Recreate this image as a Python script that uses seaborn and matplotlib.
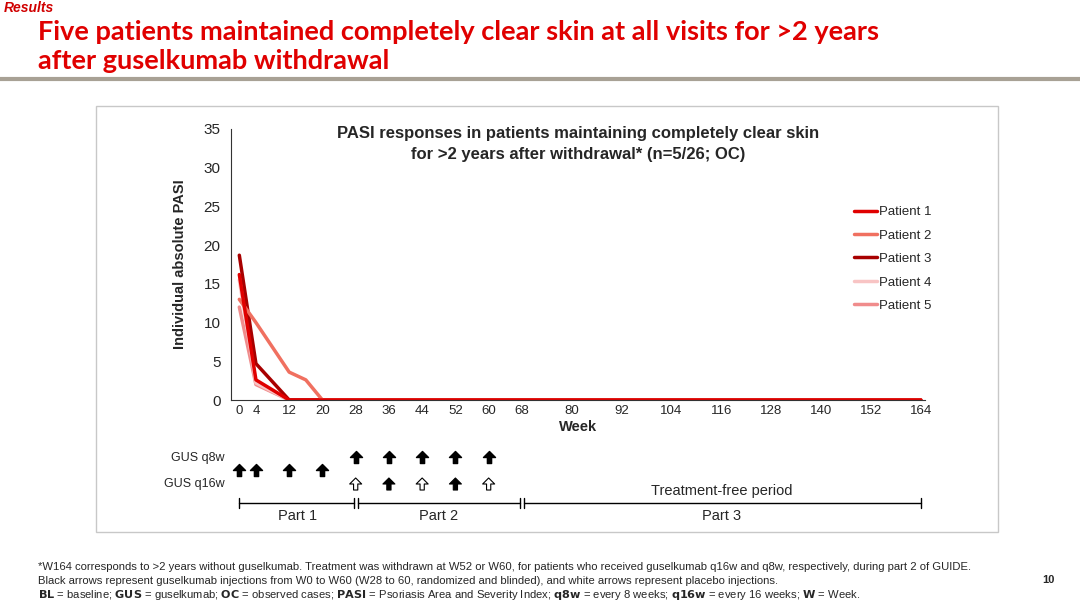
import matplotlib
matplotlib.use("Agg")
import matplotlib.pyplot as plt
import seaborn as sns
import pandas as pd
import numpy as np
from matplotlib.path import Path
from matplotlib.patches import Rectangle

weeks = [0, 4, 12, 16, 20, 28, 36, 44, 52, 60, 68, 80, 92, 104, 116, 128, 140, 152, 164]
p1 = [16.2, 2.6, 0, 0, 0, 0, 0, 0, 0, 0, 0, 0, 0, 0, 0, 0, 0, 0, 0]
p2 = [13.0, 10.0, 3.6, 2.6, 0, 0, 0, 0, 0, 0, 0, 0, 0, 0, 0, 0, 0, 0, 0]
p3 = [18.7, 4.7, 0, 0, 0, 0, 0, 0, 0, 0, 0, 0, 0, 0, 0, 0, 0, 0, 0]
p4 = [15.5, 2.2, 0, 0, 0, 0, 0, 0, 0, 0, 0, 0, 0, 0, 0, 0, 0, 0, 0]
p5 = [12.0, 2.0, 0, 0, 0, 0, 0, 0, 0, 0, 0, 0, 0, 0, 0, 0, 0, 0, 0]
patients = ["Patient 1", "Patient 2", "Patient 3", "Patient 4", "Patient 5"]
colors = ["#e00000", "#f07060", "#a80000", "#f8c4c4", "#f08c8c"]
xticks = [0, 4, 12, 20, 28, 36, 44, 52, 60, 68, 80, 92, 104, 116, 128, 140, 152, 164]
part1_wk = [0, 4, 12, 20]
q8_wk = [28, 36, 44, 52, 60]
q16_wk = [28, 36, 44, 52, 60]
q16_active = [False, True, False, True, False]

rows = []
for name, vals in zip(patients, [p1, p2, p3, p4, p5]):
    for w, v in zip(weeks, vals):
        rows.append({"Week": w, "PASI": v, "Patient": name})
df = pd.DataFrame(rows)

sns.set_style("white")
plt.rcParams['font.family'] = ['Liberation Sans', 'DejaVu Sans']

W, H = 1080, 606
fig = plt.figure(figsize=(W/100, H/100), dpi=100)

def fx(px): return px / W
def fy(py): return 1 - py / H

# header
fig.text(fx(4), fy(8), "Results", color="#d00000", fontsize=10, fontweight="bold", style="italic", va="center")
fig.text(fx(38), fy(32), "Five patients maintained completely clear skin at all visits for >2 years",
         color="#e00000", fontsize=19.5, fontweight="bold", va="center", family=["Lato", "DejaVu Sans"])
fig.text(fx(38), fy(61), "after guselkumab withdrawal",
         color="#e00000", fontsize=19.5, fontweight="bold", va="center", family=["Lato", "DejaVu Sans"])
fig.add_artist(plt.Line2D([0, 1], [fy(79), fy(79)], color="#a8a195", lw=3, transform=fig.transFigure))
fig.add_artist(Rectangle((fx(96), fy(532)), fx(998) - fx(96), fy(106) - fy(532),
                         transform=fig.transFigure, fill=False, ec="#c8c8c8", lw=1))

# main axes
ax = fig.add_axes([fx(231), fy(400), fx(925) - fx(231), fy(129) - fy(400)])
order = patients[::-1]
pal = dict(zip(patients, colors))
sns.lineplot(data=df, x="Week", y="PASI", hue="Patient", hue_order=order, palette=pal,
             lw=2.5, ax=ax, legend=False)
ax.set_xlim(-2, 165)
ax.set_ylim(0, 35)
ax.set_xticks(xticks)
ax.set_xticklabels([str(t) for t in xticks], fontsize=9.5)
ax.set_yticks(range(0, 36, 5))
ax.tick_params(axis="y", labelsize=11, length=4, color="#333")
ax.tick_params(axis="x", length=4, color="#333", direction="in")
ax.set_xlabel("Week", fontsize=10.5, fontweight="bold", labelpad=2)
ax.set_ylabel("Individual absolute PASI", fontsize=10.5, fontweight="bold", labelpad=12)
for s in ["top", "right"]:
    ax.spines[s].set_visible(False)
for s in ["left", "bottom"]:
    ax.spines[s].set_color("#333")
ax.set_title("PASI responses in patients maintaining completely clear skin\nfor >2 years after withdrawal* (n=5/26; OC)",
             fontsize=12, fontweight="bold", y=0.86, linespacing=1.5)
handles = [plt.Line2D([], [], color=c, lw=2.5) for c in colors]
ax.legend(handles, patients, loc="upper left", bbox_to_anchor=(0.88, 0.76), frameon=False,
          fontsize=9.5, handlelength=1.8, handletextpad=0.1, labelspacing=0.85)

# lower axes with arrows
ax2 = fig.add_axes([fx(231), fy(530), fx(925) - fx(231), fy(445) - fy(530)])
ax2.set_xlim(-2, 165)
ax2.set_ylim(0, 85)
ax2.axis("off")
arrow = Path([(-0.35, -1), (-0.35, 0), (-1, 0), (0, 1), (1, 0), (0.35, 0), (0.35, -1), (-0.35, -1)],
             [Path.MOVETO] + [Path.LINETO] * 6 + [Path.CLOSEPOLY])
def yy(py): return 530 - py
ax2.scatter(part1_wk, [yy(470)] * 4, marker=arrow, s=75, c="black")
ax2.scatter(q8_wk, [yy(457)] * 5, marker=arrow, s=75, c="black")
ax2.scatter(q16_wk, [yy(484)] * 5, marker=arrow, s=75,
            c=["black" if a else "white" for a in q16_active], edgecolors="black", linewidths=0.8)
ax2.text(-3.5, yy(458), "GUS q8w", ha="right", va="center", fontsize=9)
ax2.text(-3.5, yy(484), "GUS q16w", ha="right", va="center", fontsize=9)
yl = yy(503)
ax2.plot([0, 27.5], [yl, yl], color="black", lw=1)
ax2.plot([28.5, 67.5], [yl, yl], color="black", lw=1)
ax2.plot([68.5, 164], [yl, yl], color="black", lw=1)
for x in [0, 27.5, 28.5, 67.5, 68.5, 164]:
    ax2.plot([x, x], [yl - 5, yl + 5], color="black", lw=1)
ax2.text(14, yy(516), "Part 1", ha="center", va="center", fontsize=10.5)
ax2.text(48, yy(516), "Part 2", ha="center", va="center", fontsize=10.5)
ax2.text(116, yy(516), "Part 3", ha="center", va="center", fontsize=10.5)
ax2.text(116, yy(491), "Treatment-free period", ha="center", va="center", fontsize=10.5)

# footnotes
fs = 8.1
fig.text(fx(38), fy(567), "*W164 corresponds to >2 years without guselkumab. Treatment was withdrawn at W52 or W60, for patients who received guselkumab q16w and q8w, respectively, during part 2 of GUIDE.",
         fontsize=fs, va="center")
fig.text(fx(38), fy(581), "Black arrows represent guselkumab injections from W0 to W60 (W28 to 60, randomized and blinded), and white arrows represent placebo injections.",
         fontsize=fs, va="center")
fig.text(fx(38), fy(595), r"$\bf{BL}$ = baseline; $\bf{GUS}$ = guselkumab; $\bf{OC}$ = observed cases; $\bf{PASI}$ = Psoriasis Area and Severity Index; $\bf{q8w}$ = every 8 weeks; $\bf{q16w}$ = every 16 weeks; $\bf{W}$ = Week.",
         fontsize=fs, va="center")
fig.text(fx(1055), fy(580), "10", fontsize=8, fontweight="bold", ha="right", va="center")

fig.savefig("out.png", dpi=100)
